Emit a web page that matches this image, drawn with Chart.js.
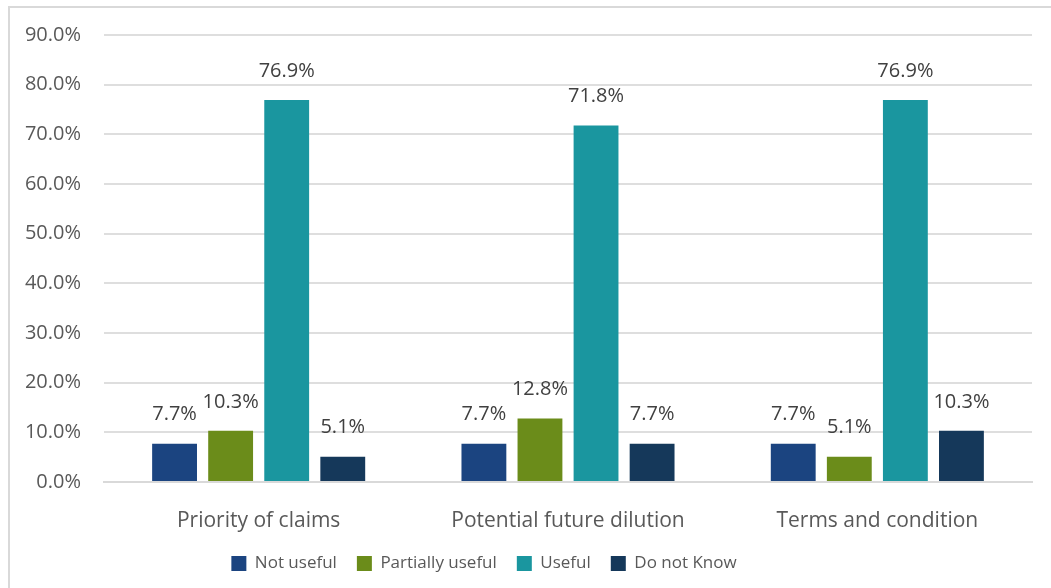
<!DOCTYPE html>
<html>
<head>
<meta charset="utf-8">
<script src="https://cdn.jsdelivr.net/npm/chart.js@4"></script>
<style>
  html, body { margin: 0; padding: 0; background: #fff; overflow: hidden; }
  #wrap { position: relative; width: 1051px; height: 588px; }
  #frame { position: absolute; left: 8px; top: 6px; width: 1100px; height: 640px; border: 2px solid #d9d9d9; box-sizing: border-box; pointer-events: none; }
  canvas { position: absolute; left: 0; top: 0; }
</style>
</head>
<body>
<div id="wrap">
  <canvas id="chart" width="1051" height="588"></canvas>
  <div id="frame"></div>
</div>
<script>
  // Survey answers, in percent
  const categories = ['Priority of claims', 'Potential future dilution', 'Terms and condition'];
  const notUseful = [7.7, 7.7, 7.7];
  const partiallyUseful = [10.3, 12.8, 5.1];
  const useful = [76.9, 71.8, 76.9];
  const doNotKnow = [5.1, 7.7, 10.3];

  const FONT = '"Open Sans", "Noto Sans", sans-serif';
  const GREY = '#595959';

  // Writes the value above each bar
  const valueLabels = {
    id: 'valueLabels',
    afterDatasetsDraw: function (chart) {
      const ctx = chart.ctx;
      ctx.save();
      ctx.font = '20px ' + FONT;
      ctx.fillStyle = '#404040';
      ctx.textAlign = 'center';
      ctx.textBaseline = 'middle';
      chart.data.datasets.forEach(function (ds, i) {
        chart.getDatasetMeta(i).data.forEach(function (bar, j) {
          ctx.fillText(ds.data[j].toFixed(1) + '%', bar.x, bar.y - 29);
        });
      });
      ctx.restore();
    }
  };

  // The legend in the original sits a bit left of centre
  const legendShift = {
    id: 'legendShift',
    afterUpdate: function (chart) {
      if (!chart.legend) return;
      chart.legend.left -= 32;
      chart.legend.right -= 32;
      chart.legend.adjustHitBoxes();
    }
  };

  function makeSet(label, data, color) {
    return {
      label: label,
      data: data,
      backgroundColor: color,
      borderWidth: 0,
      categoryPercentage: 0.725,
      barPercentage: 0.8
    };
  }

  new Chart(document.getElementById('chart'), {
    type: 'bar',
    data: {
      labels: categories,
      datasets: [
        makeSet('Not useful', notUseful, '#1b4480'),
        makeSet('Partially useful', partiallyUseful, '#6b8c1a'),
        makeSet('Useful', useful, '#1a969f'),
        makeSet('Do not Know', doNotKnow, '#15385a')
      ]
    },
    options: {
      responsive: false,
      animation: false,
      layout: { padding: { top: 35, right: 19, bottom: 6, left: 0 } },
      plugins: {
        tooltip: { enabled: false },
        legend: {
          position: 'bottom',
          labels: {
            boxWidth: 15,
            boxHeight: 15,
            padding: 20,
            color: GREY,
            font: { family: FONT, size: 17 }
          }
        }
      },
      scales: {
        x: {
          grid: { display: false, drawTicks: false },
          border: { display: true, color: '#d9d9d9', width: 2 },
          ticks: { color: GREY, padding: 26, font: { family: FONT, size: 21 } },
          afterFit: function (scale) { scale.height = 53; }
        },
        y: {
          min: 0,
          max: 90,
          grid: { color: '#dedede', lineWidth: 2, drawTicks: false },
          border: { display: false },
          ticks: {
            stepSize: 10,
            padding: 23,
            color: GREY,
            font: { family: FONT, size: 20 },
            callback: function (v) { return v.toFixed(1) + '%'; }
          },
          afterFit: function (scale) { scale.width = 104; }
        }
      }
    },
    plugins: [valueLabels, legendShift]
  });
</script>
</body>
</html>
